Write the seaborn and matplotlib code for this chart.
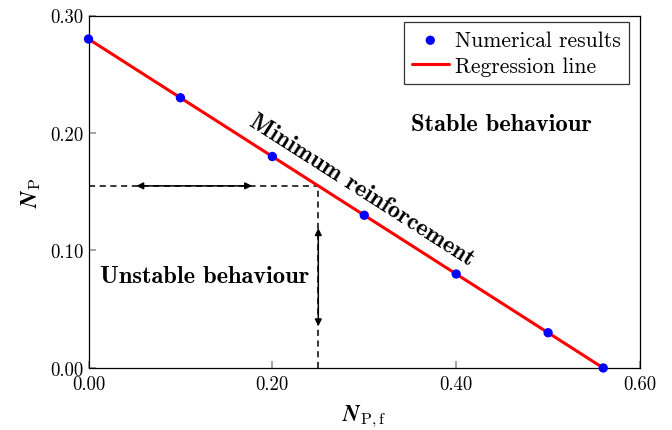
import matplotlib
matplotlib.use("Agg")
import matplotlib.pyplot as plt
import seaborn as sns
import numpy as np
import pandas as pd

# Data
npf_points = [0.0, 0.1, 0.2, 0.3, 0.4, 0.5, 0.56]
np_points = [0.28, 0.23, 0.18, 0.13, 0.08, 0.03, 0.0]
reg_x = [0.0, 0.56]
reg_y = [0.28, 0.0]
x_ticks = [0.0, 0.2, 0.4, 0.6]
y_ticks = [0.0, 0.1, 0.2, 0.3]
x_tick_labels = ["0.00", "0.20", "0.40", "0.60"]
y_tick_labels = ["0.00", "0.10", "0.20", "0.30"]
min_reinf_x = 0.25
min_reinf_y = 0.155

sns.set_theme(style="ticks")
plt.rcParams["font.family"] = ["cmr10", "DejaVu Serif"]
plt.rcParams["mathtext.fontset"] = "cm"
plt.rcParams["axes.formatter.use_mathtext"] = True
plt.rcParams["text.color"] = "black"
plt.rcParams["axes.labelcolor"] = "black"
plt.rcParams["xtick.labelcolor"] = "black"
plt.rcParams["ytick.labelcolor"] = "black"

fig = plt.figure(figsize=(6.72, 4.31), dpi=100)
ax = fig.add_axes([0.1317, 0.1439, 0.8207, 0.8178])

pts = pd.DataFrame({"x": npf_points, "y": np_points})
reg = pd.DataFrame({"x": reg_x, "y": reg_y})

sns.lineplot(data=reg, x="x", y="y", ax=ax, color="#ff0000", lw=2.2,
             label="Regression line", zorder=2)
sns.scatterplot(data=pts, x="x", y="y", ax=ax, color="#0000ff", s=45,
                edgecolor="none", label="Numerical results", zorder=3,
                clip_on=False)

# dashed guides
ax.plot([0, min_reinf_x], [min_reinf_y, min_reinf_y], ls=(0, (4, 3)),
        color="black", lw=1.1, zorder=1)
ax.plot([min_reinf_x, min_reinf_x], [0, min_reinf_y], ls=(0, (4, 3)),
        color="black", lw=1.1, zorder=1)

# double arrows
ax.annotate("", xy=(0.052, min_reinf_y), xytext=(0.178, min_reinf_y),
            arrowprops=dict(arrowstyle="<|-|>", color="black", lw=1.1,
                            mutation_scale=10, shrinkA=0, shrinkB=0))
ax.annotate("", xy=(min_reinf_x, 0.119), xytext=(min_reinf_x, 0.0355),
            arrowprops=dict(arrowstyle="<|-|>", color="black", lw=1.1,
                            mutation_scale=10, shrinkA=0, shrinkB=0))

# texts
ax.text(0.0125, 0.0786, "Unstable behaviour", family="cmb10", fontsize=17.6,
        ha="left", va="center")
ax.text(0.449, 0.2077, "Stable behaviour", family="cmb10", fontsize=17.6,
        ha="center", va="center")
p1 = ax.transData.transform((0, 0.28))
p2 = ax.transData.transform((0.56, 0.0))
ang = np.degrees(np.arctan2(p2[1] - p1[1], p2[0] - p1[0]))
ax.text(0.297, 0.1515, "Minimum reinforcement", family="cmb10", fontsize=17.6,
        ha="center", va="center", rotation=ang, rotation_mode="anchor")

ax.set_xlim(0, 0.6)
ax.set_ylim(0, 0.3)
ax.set_xticks(x_ticks)
ax.set_xticklabels(x_tick_labels)
ax.set_yticks(y_ticks)
ax.set_yticklabels(y_tick_labels)
ax.tick_params(axis="both", direction="in", length=5, color="#999999",
               labelsize=13.5, top=False, right=False)
ax.tick_params(axis="x", pad=5)
for s in ax.spines.values():
    s.set_color("black")
    s.set_linewidth(0.9)

ax.set_xlabel(r"$\boldsymbol{N}_{\mathrm{P,f}}$", fontsize=16.5, labelpad=7)
ax.set_ylabel(r"$\boldsymbol{N}_{\mathrm{P}}$", fontsize=16.5, labelpad=5)

handles, labels = ax.get_legend_handles_labels()
order = [labels.index("Numerical results"), labels.index("Regression line")]
leg = ax.legend([handles[i] for i in order], [labels[i] for i in order],
                loc="upper right", fontsize=15.5, frameon=True, fancybox=False,
                edgecolor="#333333", framealpha=1, borderpad=0.38,
                handlelength=1.7, handletextpad=0.3, labelspacing=0.3,
                borderaxespad=0, bbox_to_anchor=(0.980, 0.981))
leg.get_frame().set_linewidth(0.9)

fig.savefig("out.png", dpi=100)
